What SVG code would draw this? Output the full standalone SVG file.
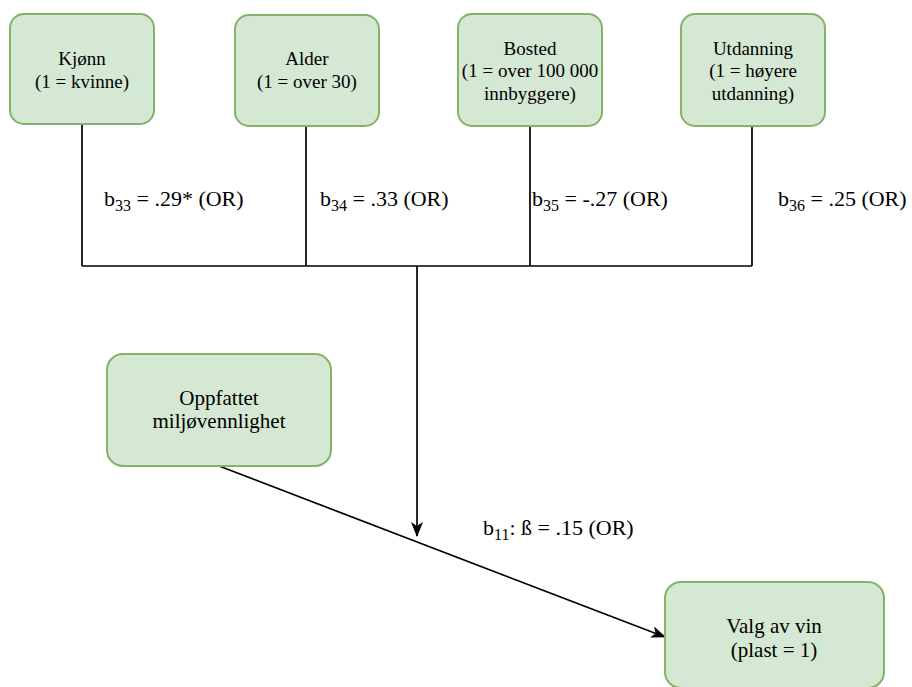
<svg xmlns="http://www.w3.org/2000/svg" width="912" height="687" viewBox="0 0 912 687">
  <style>
    .node rect { fill: #d5e8d4; stroke: #82b366; stroke-width: 2; }
    .node text { fill: #000; text-anchor: middle; }
    .small text { font-size: 19px; }
    .big text { font-size: 21px; }
    .edge { fill: none; stroke: #000; stroke-width: 1.7; }
    .lbl { font-size: 22px; fill: #000; }
    .sub { font-size: 16px; }
  </style>
  <defs>
    <marker id="arrow" viewBox="0 0 15 12" refX="14" refY="6" markerWidth="15" markerHeight="12" markerUnits="userSpaceOnUse" orient="auto">
      <path d="M0,0 L15,6 L0,12 L4,6 Z" fill="#000"/>
    </marker>
  </defs>
  <rect width="912" height="687" fill="#fff"/>

  <!-- connectors -->
  <g id="connectors">
    <path class="edge" d="M82,124 V266 M306,126 V266 M530,126 V266 M752,126 V266 M82,266 H752"/>
    <path class="edge" d="M417,266 V536" marker-end="url(#arrow)"/>
    <path class="edge" d="M219,466 L665,637" marker-end="url(#arrow)"/>
  </g>

  <g font-family="Liberation Serif, Tinos, DejaVu Serif, serif">
  <!-- edge labels -->
  <g id="labels">
    <text class="lbl" x="104" y="206">b<tspan class="sub" dy="5">33</tspan><tspan dy="-5"> = .29* (OR)</tspan></text>
    <text class="lbl" x="320" y="206">b<tspan class="sub" dy="5">34</tspan><tspan dy="-5"> = .33 (OR)</tspan></text>
    <text class="lbl" x="532" y="206">b<tspan class="sub" dy="5">35</tspan><tspan dy="-5"> = -.27 (OR)</tspan></text>
    <text class="lbl" x="778" y="206">b<tspan class="sub" dy="5">36</tspan><tspan dy="-5"> = .25 (OR)</tspan></text>
    <text class="lbl" x="483" y="535">b<tspan class="sub" dy="5">11</tspan><tspan dy="-5">: ß = .15 (OR)</tspan></text>
  </g>

  <!-- nodes -->
  <g id="kjonn" class="node small">
    <rect x="10" y="14" width="144" height="110" rx="14"/>
    <text x="82" y="65">Kjønn</text>
    <text x="82" y="88">(1 = kvinne)</text>
  </g>
  <g id="alder" class="node small">
    <rect x="235" y="15" width="144" height="111" rx="14"/>
    <text x="307" y="65">Alder</text>
    <text x="307" y="88">(1 = over 30)</text>
  </g>
  <g id="bosted" class="node small">
    <rect x="458" y="14" width="144" height="112" rx="14"/>
    <text x="530" y="55">Bosted</text>
    <text x="530" y="77">(1 = over 100 000</text>
    <text x="530" y="100">innbyggere)</text>
  </g>
  <g id="utdanning" class="node small">
    <rect x="681" y="14" width="144" height="112" rx="14"/>
    <text x="753" y="55">Utdanning</text>
    <text x="753" y="77">(1 = høyere</text>
    <text x="753" y="100">utdanning)</text>
  </g>
  <g id="miljo" class="node big">
    <rect x="107" y="354" width="224" height="112" rx="16"/>
    <text x="219" y="405">Oppfattet</text>
    <text x="219" y="428">miljøvennlighet</text>
  </g>
  <g id="valg" class="node big">
    <rect x="665" y="582" width="219" height="106" rx="16"/>
    <text x="774" y="633">Valg av vin</text>
    <text x="774" y="657">(plast = 1)</text>
  </g>
  </g>
</svg>
